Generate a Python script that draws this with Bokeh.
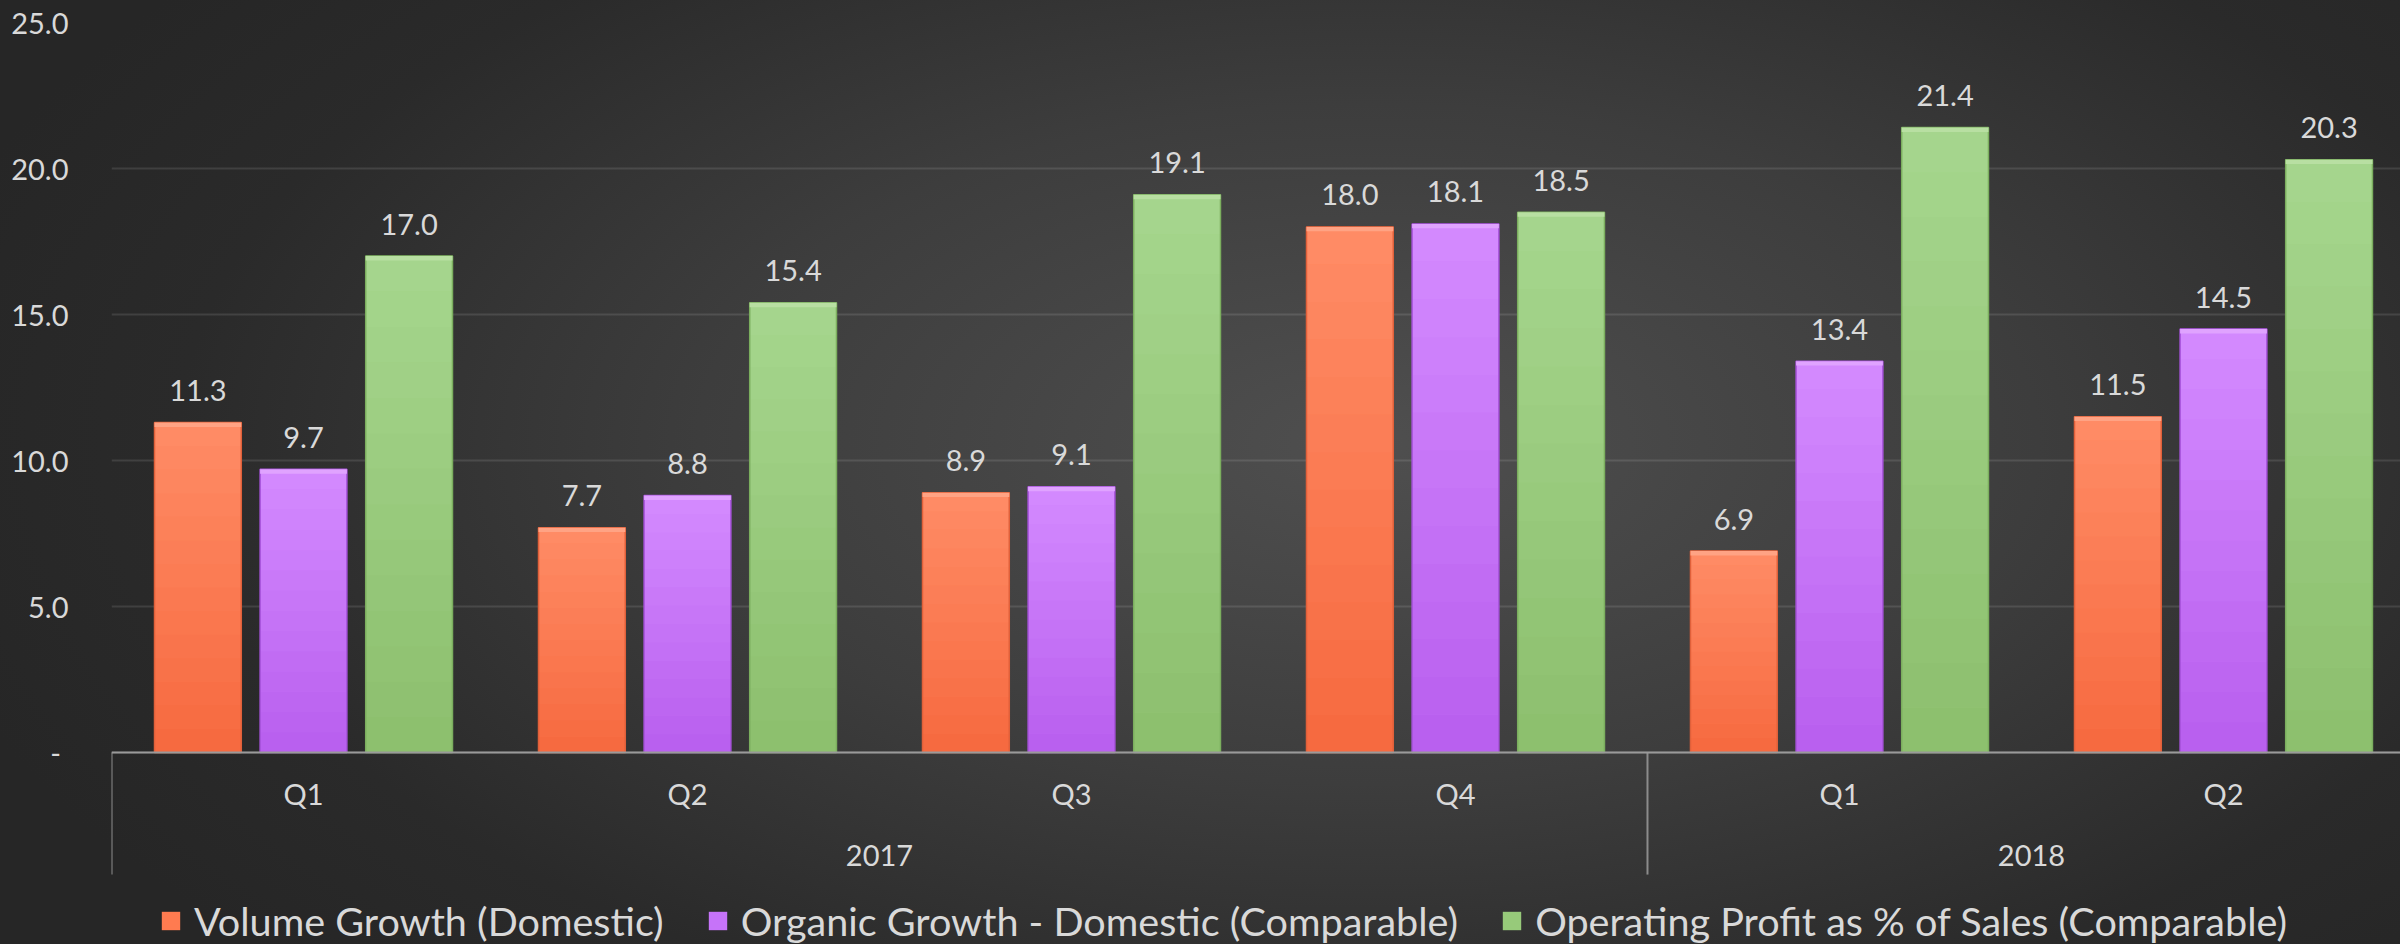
import numpy as np
from bokeh.plotting import figure
from bokeh.models import Range1d, FixedTicker, Legend, LegendItem, ColumnDataSource, Span, NumeralTickFormatter
from bokeh.core.properties import value
from bokeh.embed import file_html
from bokeh.resources import INLINE

# ---------------- data ----------------
years = ["2017", "2017", "2017", "2017", "2018", "2018"]
quarters = ["Q1", "Q2", "Q3", "Q4", "Q1", "Q2"]
volume_growth = [11.3, 7.7, 8.9, 18.0, 6.9, 11.5]
organic_growth = [9.7, 8.8, 9.1, 18.1, 13.4, 14.5]
operating_profit = [17.0, 15.4, 19.1, 18.5, 21.4, 20.3]
series_names = [
    "Volume Growth (Domestic)",
    "Organic Growth - Domestic (Comparable)",
    "Operating Profit as % of Sales (Comparable)",
]
y_ticks = [0, 5, 10, 15, 20, 25]

# ---------------- style ----------------
TEXT = "#D9D9D9"
FONT = "Lato"
FS = "29px"
colors = ["#FF7B50", "#C673F9", "#97CA7A"]
bottom_colors = [(0xF6, 0x69, 0x3F), (0xB8, 0x5E, 0xEE), (0x8C, 0xBF, 0x6D)]
top_colors_rgb = [(0xFF, 0x8C, 0x66), (0xD4, 0x8B, 0xFF), (0xA6, 0xD6, 0x8E)]
edge_colors = ["#E0603A", "#A652DA", "#7BAE5E"]
bevel_colors = ["#FFA384", "#E0A3FF", "#B8DFA2"]
offsets = [-0.275, 0.0, 0.275]
bar_w = 0.226
bevel = 0.15   # top highlight thickness (data units)
n_bands = 14   # vertical shading bands per bar

n = len(quarters)
centers = np.arange(n) + 0.5

p = figure(
    width=2400, height=944,
    x_range=Range1d(0, 5.961), y_range=Range1d(-6.575, 25),
    output_backend="svg", toolbar_location=None,
    x_axis_location=None,
    min_border_left=111, min_border_top=22, min_border_bottom=0, min_border_right=0,
)
p.background_fill_alpha = 0
p.border_fill_alpha = 0
p.outline_line_color = None
p.styles = {
    "background": "radial-gradient(ellipse 62% 80% at 57% 47%, #4f4f4f 0%, #3d3d3d 45%, #2a2a2a 80%, #262626 100%)"
}

# y axis
yax = p.yaxis[0]
yax.ticker = FixedTicker(ticks=y_ticks)
yax.formatter = NumeralTickFormatter(format="0.0")
yax.major_label_overrides = {0: "-\u00a0"}
yax.axis_line_color = None
yax.major_tick_line_color = None
yax.minor_tick_line_color = None
yax.major_label_standoff = 37
yax.major_label_text_font = FONT
yax.major_label_text_font_size = FS
yax.major_label_text_color = TEXT

p.xgrid.visible = False
p.ygrid.ticker = FixedTicker(ticks=y_ticks)
p.ygrid.grid_line_color = "white"
p.ygrid.grid_line_alpha = 0.11
p.ygrid.grid_line_width = 2


def hexcol(rgb):
    return "#%02x%02x%02x" % tuple(int(round(c)) for c in rgb)


# bars
series = [volume_growth, organic_growth, operating_profit]
renderers = []
for vals, off, c, bc, tc, ec, bvc in zip(series, offsets, colors, bottom_colors,
                                          top_colors_rgb, edge_colors, bevel_colors):
    vals_arr = np.array(vals)
    xs = centers + off
    src = ColumnDataSource(dict(x=xs, top=vals_arr, bevel_bottom=vals_arr - bevel,
                                lbl=[f"{v:.1f}" for v in vals]))
    # base bar (used for legend)
    r = p.vbar(x="x", top="top", bottom=0, width=bar_w, source=src,
               fill_color=c, line_color=None)
    renderers.append(r)
    # vertical shading bands
    bx, bb, bt, bcol = [], [], [], []
    for xi, v in zip(xs, vals_arr):
        for i in range(n_bands):
            f = (i + 0.5) / n_bands
            bx.append(xi)
            bb.append(v * i / n_bands)
            bt.append(v * (i + 1) / n_bands + 0.01)
            bcol.append(hexcol([b + (t - b) * f for b, t in zip(bc, tc)]))
    p.vbar(x=bx, bottom=bb, top=bt, width=bar_w, fill_color=bcol, line_color=None)
    # outline + bevel
    p.vbar(x="x", top="top", bottom=0, width=bar_w, source=src,
           fill_color=None, line_color=ec, line_width=1.5)
    p.vbar(x="x", top="top", bottom="bevel_bottom", width=bar_w, source=src,
           fill_color=bvc, line_color=None)
    p.text(x="x", y="top", text="lbl", source=src, text_font=value(FONT),
           text_font_size=FS, text_color=TEXT, text_align="center",
           text_baseline="alphabetic", y_offset=-32)

# axis line at zero
p.add_layout(Span(location=0, dimension="width", line_color="#9a9a9a", line_width=2))

# category labels
p.text(x=centers, y=[-1.40] * n, text=quarters, text_font=value(FONT),
       text_font_size=FS, text_color=TEXT, text_align="center", text_baseline="middle")

# year groups
group_names, group_counts = [], []
for yv in years:
    if group_names and group_names[-1] == yv:
        group_counts[-1] += 1
    else:
        group_names.append(yv)
        group_counts.append(1)
bounds = np.concatenate([[0], np.cumsum(group_counts)])
group_centers = (bounds[:-1] + bounds[1:]) / 2
p.text(x=group_centers, y=[-3.53] * len(group_names), text=group_names, text_font=value(FONT),
       text_font_size=FS, text_color=TEXT, text_align="center", text_baseline="middle")
p.segment(x0=bounds, x1=bounds, y0=[0] * len(bounds), y1=[-4.18] * len(bounds),
          line_color="#8c8c8c", line_width=2)

# legend
legend = Legend(
    items=[LegendItem(label=value(nm), renderers=[r]) for nm, r in zip(series_names, renderers)],
    orientation="horizontal", location=(48, 0),
    background_fill_alpha=0, border_line_color=None,
    label_text_font=FONT, label_text_font_size="39.6px", label_text_color=TEXT,
    glyph_width=23, glyph_height=23, label_standoff=12, spacing=42,
    padding=0, margin=0,
)
p.add_layout(legend)

html = file_html(p, INLINE)
html = html.replace("<body>", '<body style="background:#272727;">', 1)
open("out.html", "w").write(html)
